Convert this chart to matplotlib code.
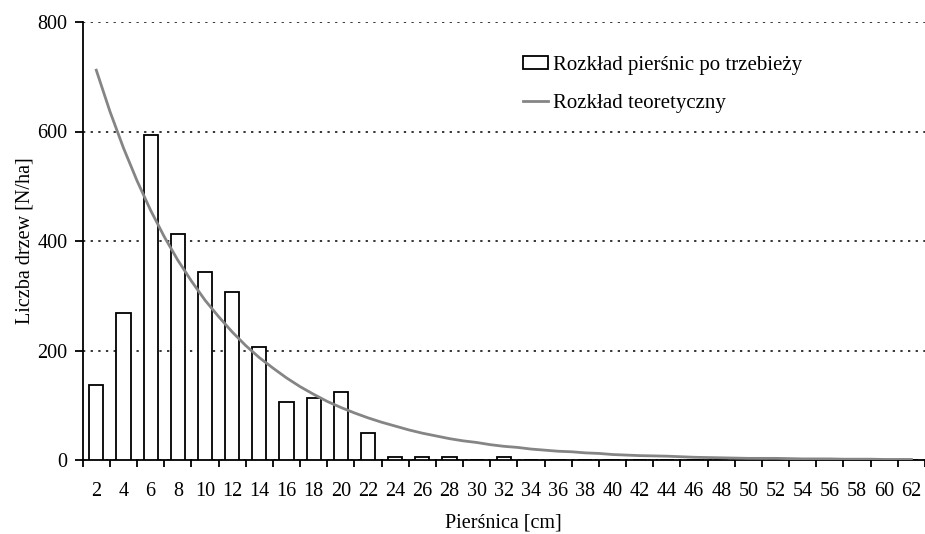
import numpy as np
import matplotlib
matplotlib.use('Agg')
import matplotlib.pyplot as plt

plt.rcParams['font.family'] = ['Liberation Serif', 'DejaVu Serif']

# diameter classes [cm]
dbh = np.arange(2, 63, 2)
# observed distribution after thinning [N/ha]
observed = [137, 269, 594, 412, 343, 307, 206, 106, 113, 125, 50,
            6, 6, 6, 0, 6, 0, 0, 0, 0, 0, 0, 0, 0, 0, 0, 0, 0, 0, 0, 0]
# theoretical distribution [N/ha], read every 1 cm
curve_x = np.arange(2, 63, 1)
theoretical = [712, 637, 570, 510, 456, 408, 365, 327, 292, 262,
               234, 209, 187, 168, 150, 134, 120, 107, 96, 86,
               77, 69, 62, 55, 49, 44, 39, 35, 32, 28,
               25, 23, 20, 18, 16, 15, 13, 12, 10, 9,
               8, 7.5, 7, 6, 5, 4.5, 4, 3.5, 3, 3,
               3, 2.5, 2, 2, 2, 1.5, 1.5, 1.5, 1, 1, 1]

fig = plt.figure(figsize=(9.25, 5.34), dpi=100)
ax = fig.add_axes([82.7 / 925, 1 - 460 / 534, 1 - 82.7 / 925, (460 - 22) / 534])

bars = ax.bar(dbh, observed, width=1.04, color='white', edgecolor='black',
              linewidth=1.3, label='Rozkład pierśnic po trzebieży', zorder=3)
line, = ax.plot(curve_x, theoretical, color='#858585', linewidth=2.0,
                label='Rozkład teoretyczny', zorder=4)

ax.set_xlim(1, 63)
ax.set_ylim(0, 800)
ax.set_yticks([0, 200, 400, 600, 800])
ax.yaxis.grid(True, linestyle=(0, (1.5, 3.5)), color='black', linewidth=1.1, zorder=1)

# ticks at class boundaries, labels at class centres
ax.set_xticks(np.arange(1, 64, 2))
ax.set_xticklabels([])
ax.set_xticks(dbh, minor=True)
ax.set_xticklabels([str(v) for v in dbh], minor=True)
ax.tick_params(axis='x', which='major', direction='out', length=5, width=1.3)
ax.tick_params(axis='x', which='minor', length=0, pad=16, labelsize=14.5)
ax.tick_params(axis='y', direction='out', length=6, width=1.3, labelsize=14.5, pad=5)

for s in ['top', 'right']:
    ax.spines[s].set_visible(False)
for s in ['left', 'bottom']:
    ax.spines[s].set_linewidth(1.3)

ax.set_xlabel('Pierśnica [cm]', fontsize=14.5, labelpad=9)
ax.set_ylabel('Liczba drzew [N/ha]', fontsize=14.5, labelpad=2)

ax.legend(handles=[bars, line], loc='upper left', bbox_to_anchor=(0.5, 0.965),
          frameon=False, fontsize=15, handlelength=1.2, handleheight=0.55,
          handletextpad=0.25, labelspacing=0.9)

plt.savefig('out.png', dpi=100)
plt.close()
